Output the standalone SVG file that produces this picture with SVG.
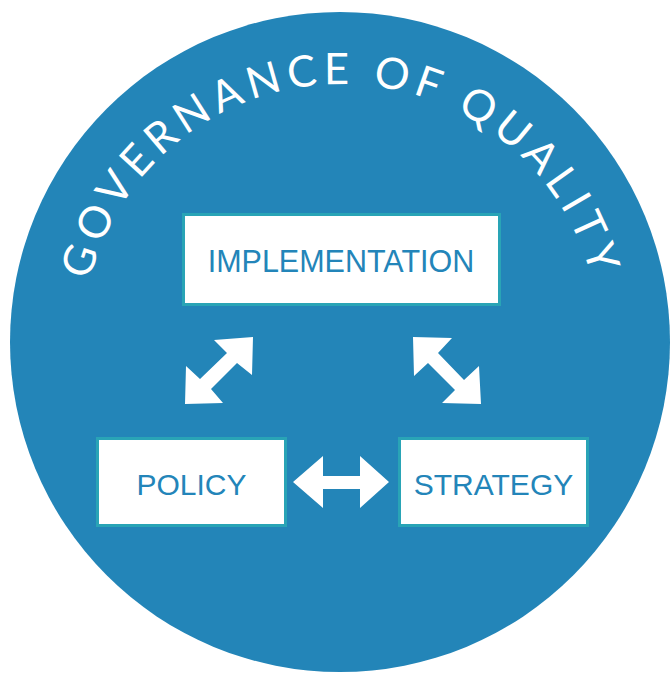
<svg xmlns="http://www.w3.org/2000/svg" width="670" height="675" viewBox="0 0 670 675">
  <style>
    .box { fill: #ffffff; stroke: #29a4b6; stroke-width: 3; }
    .label { font-family: "Liberation Sans", Arial, sans-serif; font-size: 30px; fill: #2385b9; text-anchor: middle; }
    .arrow { fill: #ffffff; }
    .title { font-family: Lato, "Open Sans", sans-serif; font-size: 43.5px; fill: #ffffff; letter-spacing: 6px; }
  </style>
  <defs>
    <path id="arc" d="M 82 343 A 259 259 0 0 1 600 343"/>
  </defs>
  <rect width="670" height="675" fill="#ffffff"/>
  <g id="background">
    <circle cx="340" cy="342" r="330" fill="#2385b8"/>
    <text class="title"><textPath href="#arc" startOffset="50%" text-anchor="middle">GOVERNANCE OF QUALITY</textPath></text>
  </g>
  <g id="implementation">
    <rect class="box" x="183.5" y="214.5" width="316" height="90"/>
    <text class="label" x="341" y="272" style="font-size:30.5px">IMPLEMENTATION</text>
  </g>
  <g id="policy">
    <rect class="box" x="97.5" y="438.5" width="188" height="87"/>
    <text class="label" x="191.5" y="495">POLICY</text>
  </g>
  <g id="strategy">
    <rect class="box" x="399.5" y="438.5" width="188" height="87"/>
    <text class="label" x="493.5" y="495">STRATEGY</text>
  </g>
  <g id="connectors">
    <polygon class="arrow" points="253,337 252,375 237,363 211,389 223,403 185,404 186,366 200,379 227,353 214,340"/>
    <polygon class="arrow" points="413,337 452,338 438,353 464,380 479,366 481,404 442,403 455,390 428,363 414,376"/>
    <polygon class="arrow" points="293,482 323,456 323,476 360,476 360,456 389,482 360,508 360,489 323,489 323,508"/>
  </g>
</svg>
